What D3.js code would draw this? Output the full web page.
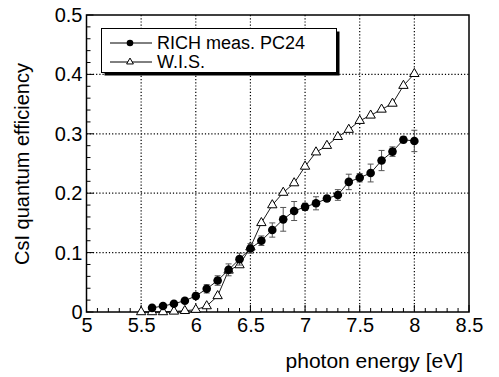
<!DOCTYPE html>
<html>
<head>
<meta charset="utf-8">
<script src="https://cdn.jsdelivr.net/npm/d3@7"></script>
<style>
body { margin: 0; background: #fff; }
text { font-family: "Liberation Sans", Arial, Helvetica, sans-serif; fill: #000; }
</style>
</head>
<body>
<script>
// RICH measurement PC24 (filled circles, with error bars)
var richEnergy = [5.6,5.7,5.8,5.9,6.0,6.1,6.2,6.3,6.4,6.5,6.6,6.7,6.8,6.9,7.0,7.1,7.2,7.3,7.4,7.5,7.6,7.7,7.8,7.9,8.0];
var richQE = [0.007,0.010,0.014,0.019,0.027,0.039,0.053,0.071,0.089,0.107,0.120,0.138,0.156,0.170,0.177,0.183,0.191,0.197,0.219,0.226,0.234,0.255,0.270,0.290,0.288];
var richErr = [0.002,0.002,0.002,0.003,0.005,0.007,0.008,0.010,0.010,0.008,0.008,0.012,0.020,0.016,0.006,0.011,0.005,0.009,0.013,0.007,0.015,0.017,0.008,0.005,0.018];

// W.I.S. (open triangles)
var wisEnergy = [5.5,5.6,5.7,5.8,5.9,6.0,6.1,6.2,6.3,6.4,6.5,6.6,6.7,6.8,6.9,7.0,7.1,7.2,7.3,7.4,7.5,7.6,7.7,7.8,7.9,8.0];
var wisQE = [0.000,0.000,0.000,0.001,0.002,0.004,0.010,0.027,0.070,0.079,0.109,0.150,0.180,0.201,0.217,0.245,0.269,0.280,0.295,0.307,0.322,0.331,0.341,0.351,0.381,0.401];

var xTicks = [5,5.5,6,6.5,7,7.5,8,8.5];
var yTicks = [0,0.1,0.2,0.3,0.4,0.5];
var legendLabels = ["RICH meas. PC24", "W.I.S."];

var W = 499, H = 377;
var pLeft = 86.5, pRight = 469, pTop = 15, pBottom = 312;

var svg = d3.select("body").append("svg")
	.attr("width", W)
	.attr("height", H);

var x = d3.scaleLinear().domain([5, 8.5]).range([pLeft, pRight]);
var y = d3.scaleLinear().domain([0, 0.5]).range([pBottom, pTop]);

// grid
var grid = svg.append("g");
grid.selectAll("line.gx")
	.data(xTicks.filter(function(d){ return d > 5 && d < 8.5; }))
	.enter().append("line")
	.attr("x1", function(d){ return x(d); })
	.attr("x2", function(d){ return x(d); })
	.attr("y1", pTop).attr("y2", pBottom)
	.attr("stroke", "#000").attr("stroke-width", 1.2)
	.attr("stroke-dasharray", "1.2,2");
grid.selectAll("line.gy")
	.data(yTicks.filter(function(d){ return d > 0 && d < 0.5; }))
	.enter().append("line")
	.attr("x1", pLeft).attr("x2", pRight)
	.attr("y1", function(d){ return y(d); })
	.attr("y2", function(d){ return y(d); })
	.attr("stroke", "#000").attr("stroke-width", 1.2)
	.attr("stroke-dasharray", "1.2,2");

// axes (ticks inside)
var xAxis = d3.axisBottom(x).tickValues(xTicks).tickSize(0).tickPadding(6)
	.tickFormat(function(d){ return String(d); });
var gx = svg.append("g").attr("transform", "translate(0," + pBottom + ")").call(xAxis);
gx.select(".domain").remove();
gx.selectAll("text").style("font-size", "20px").attr("font-family", null);

var yAxis = d3.axisLeft(y).tickValues(yTicks).tickSize(0).tickPadding(4)
	.tickFormat(function(d){ return String(d); });
var gy = svg.append("g").attr("transform", "translate(" + pLeft + ",0)").call(yAxis);
gy.select(".domain").remove();
gy.selectAll("text").style("font-size", "20px").attr("font-family", null);

// minor + major tick marks
var xm = d3.range(50, 86).map(function(d){ return d / 10; });
svg.append("g").selectAll("line")
	.data(xm)
	.enter().append("line")
	.attr("x1", function(d){ return x(d); })
	.attr("x2", function(d){ return x(d); })
	.attr("y1", pBottom)
	.attr("y2", function(d){ return pBottom - (Math.round(d * 10) % 5 == 0 ? 7 : 4); })
	.attr("stroke", "#000").attr("stroke-width", 1);
var ym = d3.range(0, 26).map(function(d){ return d / 50; });
svg.append("g").selectAll("line")
	.data(ym)
	.enter().append("line")
	.attr("y1", function(d){ return y(d); })
	.attr("y2", function(d){ return y(d); })
	.attr("x1", pLeft)
	.attr("x2", function(d){ return pLeft + (Math.round(d * 50) % 5 == 0 ? 7 : 4); })
	.attr("stroke", "#000").attr("stroke-width", 1);

// frame
svg.append("rect")
	.attr("x", pLeft).attr("y", pTop)
	.attr("width", pRight - pLeft).attr("height", pBottom - pTop)
	.attr("fill", "none").attr("stroke", "#000").attr("stroke-width", 1.5);

// W.I.S. series
var line = d3.line().x(function(d){ return x(d[0]); }).y(function(d){ return y(d[1]); });
var wis = wisEnergy.map(function(e, i){ return [e, wisQE[i]]; });
var rich = richEnergy.map(function(e, i){ return [e, richQE[i], richErr[i]]; });

svg.append("path").datum(wis).attr("d", line)
	.attr("fill", "none").attr("stroke", "#000").attr("stroke-width", 0.9);
var tri = d3.symbol().type(d3.symbolTriangle).size(38);
svg.append("g").selectAll("path")
	.data(wis)
	.enter().append("path")
	.attr("d", tri)
	.attr("transform", function(d){ return "translate(" + x(d[0]) + "," + y(d[1]) + ")"; })
	.attr("fill", "#fff").attr("stroke", "#000").attr("stroke-width", 1);

// RICH series: error bars, line, markers
var eb = svg.append("g").attr("stroke", "#555").attr("stroke-width", 1);
rich.forEach(function(d){
	var cx = x(d[0]), y1 = y(d[1] - d[2]), y2 = y(d[1] + d[2]);
	eb.append("line").attr("x1", cx).attr("x2", cx).attr("y1", y1).attr("y2", y2);
	eb.append("line").attr("x1", cx - 3).attr("x2", cx + 3).attr("y1", y1).attr("y2", y1);
	eb.append("line").attr("x1", cx - 3).attr("x2", cx + 3).attr("y1", y2).attr("y2", y2);
});
svg.append("path").datum(rich).attr("d", line)
	.attr("fill", "none").attr("stroke", "#000").attr("stroke-width", 0.9);
svg.append("g").selectAll("circle")
	.data(rich)
	.enter().append("circle")
	.attr("cx", function(d){ return x(d[0]); })
	.attr("cy", function(d){ return y(d[1]); })
	.attr("r", 4.3)
	.attr("fill", "#000");

// legend
var lg = svg.append("g");
lg.append("rect").attr("x", 104.5).attr("y", 31.5).attr("width", 235).attr("height", 44).attr("fill", "#000");
lg.append("rect").attr("x", 101.5).attr("y", 28.5).attr("width", 235).attr("height", 44)
	.attr("fill", "#fff").attr("stroke", "#000").attr("stroke-width", 1);
var rows = [43, 62];
rows.forEach(function(ry, i){
	lg.append("line").attr("x1", 110).attr("x2", 152).attr("y1", ry).attr("y2", ry)
		.attr("stroke", "#000").attr("stroke-width", 1);
	if (i == 0) {
		lg.append("circle").attr("cx", 130).attr("cy", ry).attr("r", 3.3).attr("fill", "#000");
	} else {
		lg.append("path").attr("d", d3.symbol().type(d3.symbolTriangle).size(20))
			.attr("transform", "translate(130," + ry + ")")
			.attr("fill", "#fff").attr("stroke", "#000").attr("stroke-width", 1);
	}
	lg.append("text").attr("x", 157).attr("y", ry + 6.3)
		.style("font-size", "18px").text(legendLabels[i]);
});

// axis titles
svg.append("text")
	.attr("x", 463).attr("y", 368)
	.attr("text-anchor", "end")
	.style("font-size", "21px")
	.text("photon energy [eV]");
svg.append("text")
	.attr("transform", "translate(28.5,164) rotate(-90)")
	.attr("text-anchor", "middle")
	.style("font-size", "20px")
	.text("CsI quantum efficiency");
</script>
</body>
</html>
